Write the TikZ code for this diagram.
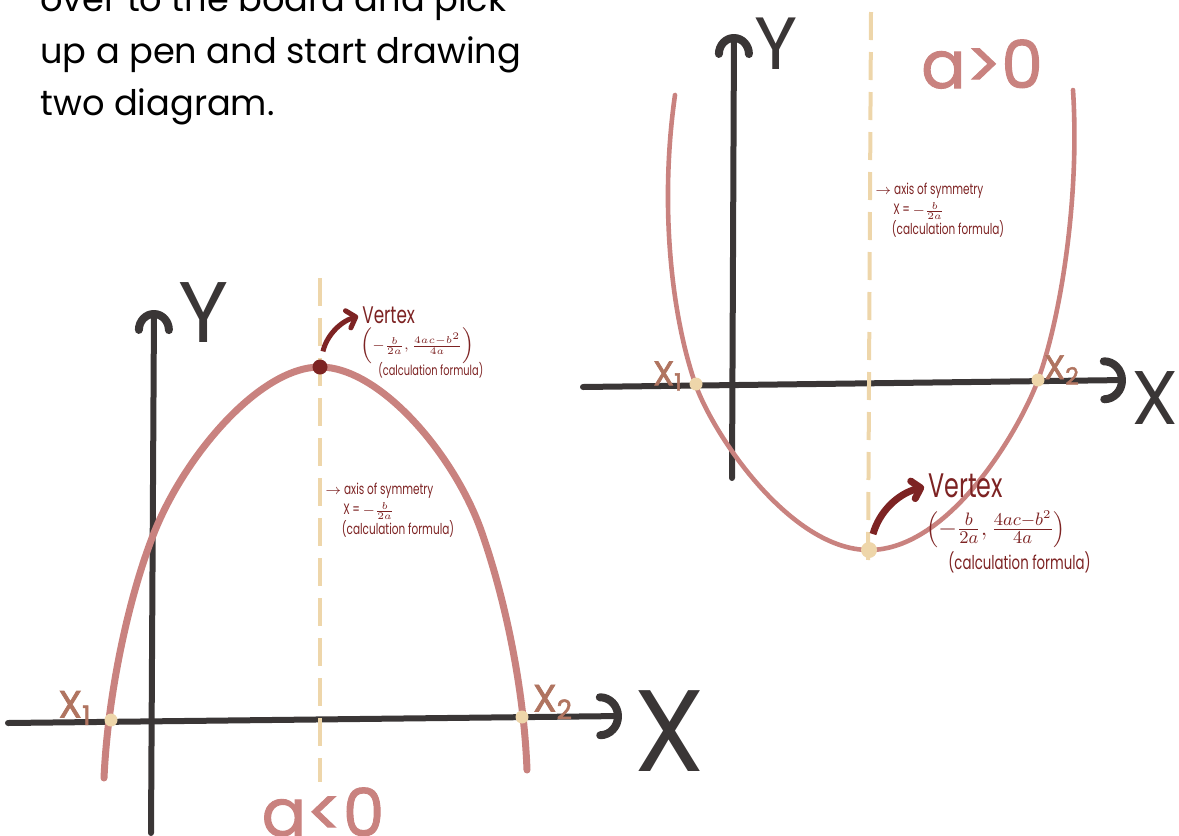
\documentclass[tikz,border=0pt]{standalone}
\usepackage{fontspec}
\setmainfont{Poppins}
\newfontfamily\handfont[FakeStretch=0.7]{Poppins}
\newfontfamily\thickhand[FakeBold=1.5]{Poppins}
\newfontfamily\rootfont[FakeBold=2]{Poppins}
\usetikzlibrary{positioning, arrows.meta}
\definecolor{axiscol}{RGB}{58,54,54}
\definecolor{curvecol}{RGB}{201,130,127}
\definecolor{creamcol}{RGB}{238,214,170}
\definecolor{notecol}{RGB}{125,35,35}

\begin{document}
\begin{tikzpicture}[
    x=0.5pt, y=-0.5pt,
    %% -- axes and curves --
    axisline/.style={line width=3pt, color=axiscol, line cap=round},
    ytip/.style={-{Arc Barb[width=19pt, length=10pt, line width=4pt, round]}},
    xtip/.style={-{Arc Barb[width=23pt, length=11pt, line width=4pt, round]}},
    curvethick/.style={line width=3.5pt, color=curvecol, line cap=round},
    curvethin/.style={line width=2.3pt, color=curvecol, line cap=round},
    symline/.style={line width=2pt, color=creamcol, dash pattern=on 14pt off 6pt},
    %% -- points --
    rootdot/.style={circle, fill=creamcol, inner sep=0pt, minimum size=6.5pt},
    vtxdot/.style={circle, fill=notecol, inner sep=0pt, minimum size=7.5pt},
    %% -- labels --
    axislabel/.style={text=axiscol, inner sep=0pt},
    signlabel/.style={text=curvecol, inner sep=0pt, anchor=base,
        font=\thickhand\fontsize{33}{33}\selectfont},
    rootlabel/.style={inner sep=0pt, text=creamcol!45!notecol},
    note/.style={text=notecol, inner sep=0pt, align=left},
    vtxarrow/.style={-{Straight Barb[length=4pt, width=9pt, round]},
        line width=2.5pt, color=notecol, shorten <=4pt, shorten >=2pt},
]
\clip (0,0) rectangle (1179,836);

% -- intro text --
\node[anchor=base west, align=left, inner sep=0pt,
      font=\fontsize{17.6}{26}\selectfont] (intro) at (40,115)
      {over to the board and pick\\up a pen and start drawing\\two diagram.};

% ===== Left diagram (a<0) =====
\coordinate (lxs) at (8,723);
\coordinate (lxe) at (622,716);
\coordinate (lys) at (151,833);
\coordinate (lye) at (154,310);
\draw[axisline, xtip] (lxs) -- (lxe);
\draw[axisline, ytip] (lys) -- (lye);
\node[axislabel, font=\fontsize{58}{58}\selectfont] (lxlab) at (670,731) {X};
\node[axislabel, font=\fontsize{43}{43}\selectfont] (lylab) at (204,313) {Y};

\draw[curvethick] (104,778) .. controls (108,690) and (130,593) .. (154,533)
    .. controls (185,455) and (260,367) .. (320,367)
    .. controls (380,367) and (455,455) .. (482,533)
    .. controls (506,602) and (524,690) .. (527,770);

\coordinate (lsymtop) at (320,278);
\coordinate (lsymbot) at (320,782);
\draw[symline] (lsymtop) -- (lsymbot);

\node[rootdot] (lroota) at (111,720) {};
\node[rootdot] (lrootb) at (522,717) {};
\node[vtxdot]  (lvtx)   at (320,367) {};

\node[rootlabel, font=\rootfont\fontsize{19}{19}\selectfont] (lrootalab) at (75,708) {X\textsubscript{1}};
\node[rootlabel, font=\rootfont\fontsize{19}{19}\selectfont] (lrootblab) at (553,702) {X\textsubscript{2}};

\node[note, anchor=west, font=\handfont\fontsize{12}{12}\selectfont] (lvtxlab) at (362,315) {Vertex};
\node[note, anchor=west, font=\fontsize{7.5}{7.5}\selectfont] (lvtxform) at (360,346)
    {$\left(-\frac{b}{2a},\frac{4ac-b^2}{4a}\right)$};
\node[note, anchor=west, font=\handfont\fontsize{7}{7}\selectfont] (lvtxcalc) at (378,370) {(calculation formula)};
\draw[vtxarrow] (lvtx) to[bend left=30] (lvtxlab.west);

\node[note, anchor=north west, font=\handfont\fontsize{7.5}{10}\selectfont] (lsymnote) at (325,483)
    {$\rightarrow$ axis of symmetry\\\hspace*{1.2em}X\,=\,$-\frac{b}{2a}$\\\hspace*{1.1em}(calculation formula)};

\node[signlabel] (lsign) at (323,836) {a<0};

% ===== Right diagram (a>0) =====
\coordinate (rxs) at (583,387);
\coordinate (rxe) at (1126,380);
\coordinate (rys) at (732,478);
\coordinate (rye) at (734,34);
\draw[axisline, xtip] (rxs) -- (rxe);
\draw[axisline, ytip] (rys) -- (rye);
\node[axislabel, font=\fontsize{38}{38}\selectfont] (rxlab) at (1155,398) {X};
\node[axislabel, font=\fontsize{37}{37}\selectfont] (rylab) at (776,44) {Y};

\draw[curvethin] (675,95) .. controls (660,200) and (670,310) .. (695,383)
    .. controls (712,433) and (790,550) .. (869,550)
    .. controls (950,550) and (1020,429) .. (1038,380)
    .. controls (1060,320) and (1080,200) .. (1073,90);

\coordinate (rsymtop) at (871,12);
\coordinate (rsymbot) at (868,570);
\draw[symline] (rsymtop) -- (rsymbot);

\node[rootdot] (rroota) at (696,384) {};
\node[rootdot] (rrootb) at (1038,380) {};
\node[rootdot, minimum size=8pt] (rvtx) at (869,550) {};

\node[rootlabel, font=\rootfont\fontsize{17}{17}\selectfont] (rrootalab) at (668,376) {X\textsubscript{1}};
\node[rootlabel, font=\rootfont\fontsize{17}{17}\selectfont] (rrootblab) at (1062,370) {X\textsubscript{2}};

\node[note, anchor=west, font=\handfont\fontsize{17}{17}\selectfont] (rvtxlab) at (928,486) {Vertex};
\node[note, anchor=west, font=\fontsize{12.5}{12.5}\selectfont] (rvtxform) at (926,529)
    {$\left(-\frac{b}{2a},\frac{4ac-b^2}{4a}\right)$};
\node[note, anchor=west, font=\handfont\fontsize{9.5}{9.5}\selectfont] (rvtxcalc) at (948,562) {(calculation formula)};
\draw[vtxarrow, line width=3.5pt] (rvtx) to[bend left=30] (rvtxlab.west);

\node[note, anchor=north west, font=\handfont\fontsize{7.5}{10}\selectfont] (rsymnote) at (875,183)
    {$\rightarrow$ axis of symmetry\\\hspace*{1.2em}X\,=\,$-\frac{b}{2a}$\\\hspace*{1.1em}(calculation formula)};

\node[signlabel] (rsign) at (982,88) {a>0};
\end{tikzpicture}
\end{document}
